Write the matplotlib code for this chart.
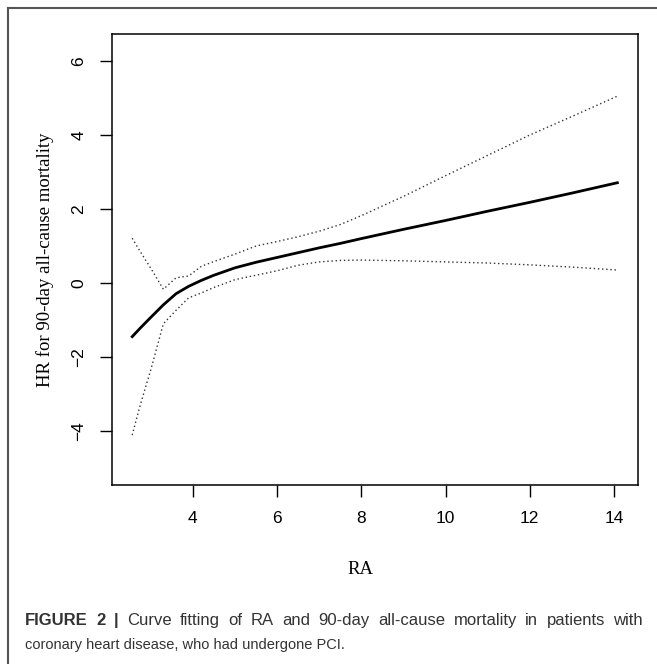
import numpy as np
import matplotlib.pyplot as plt
from matplotlib.lines import Line2D

# valores
ra = [2.56, 2.75, 3.0, 3.3, 3.6, 3.9, 4.2, 4.5, 5.0, 5.5, 6.0, 6.5, 7.0,
      7.5, 8.0, 9.0, 10.0, 11.0, 12.0, 13.0, 14.08]
hr = [-1.45, -1.22, -0.93, -0.59, -0.29, -0.09, 0.07, 0.21, 0.41, 0.56, 0.69,
      0.82, 0.95, 1.07, 1.20, 1.45, 1.69, 1.94, 2.18, 2.43, 2.71]
upper = [1.21, 0.85, 0.40, -0.17, 0.14, 0.19, 0.45, 0.58, 0.78, 1.00, 1.12,
         1.25, 1.40, 1.58, 1.82, 2.34, 2.90, 3.45, 4.00, 4.50, 5.05]
lower = [-4.11, -3.30, -2.35, -1.10, -0.74, -0.40, -0.27, -0.12, 0.09, 0.21,
         0.33, 0.48, 0.57, 0.61, 0.62, 0.60, 0.57, 0.54, 0.49, 0.43, 0.35]
xticks = [4, 6, 8, 10, 12, 14]
yticks = [-4, -2, 0, 2, 4, 6]

caption1_bold = 'FIGURE 2 |'
caption1 = 'Curve fitting of RA and 90-day all-cause mortality in patients with'
caption2 = 'coronary heart disease, who had undergone PCI.'

W, H = 657, 664
fig = plt.figure(figsize=(W / 100, H / 100), dpi=100)

# moldura da figura (linhas de cima e da esquerda)
fig.add_artist(Line2D([8 / W, 1], [1 - 8 / H, 1 - 8 / H], color='#555555', lw=1.5))
fig.add_artist(Line2D([8 / W, 8 / W], [0, 1 - 8 / H], color='#555555', lw=1.5))

ax = fig.add_axes([112 / W, 1 - 485 / H, 526 / W, 451 / H])
ax.plot(ra, hr, color='black', lw=2.0)
ax.plot(ra, upper, color='#333333', lw=1.0, linestyle=(0, (1, 2)))
ax.plot(ra, lower, color='#333333', lw=1.0, linestyle=(0, (1, 2)))

ax.set_xlim(2.08, 14.57)
ax.set_ylim(-5.46, 6.73)
ax.set_xticks(xticks)
ax.set_yticks(yticks)
ax.set_yticklabels([str(v).replace('-', '\u2212') for v in yticks], rotation=90, va='center')
ax.tick_params(length=8.4, width=1, labelsize=12.5, pad=10)
for lab in ax.get_xticklabels() + ax.get_yticklabels():
    lab.set_fontfamily('Liberation Sans')
for s in ax.spines.values():
    s.set_linewidth(1.1)

# titulos dos eixos
fig.text(360 / W, 1 - 570 / H, 'RA', family='Liberation Serif', fontsize=13.5,
         ha='center', va='center')
fig.text(45 / W, 1 - 259.5 / H, 'HR for 90-day all-cause mortality', family='Liberation Serif',
         fontsize=13.5, rotation=90, ha='center', va='center')

# legenda da figura, primeira linha justificada
cap_kw = dict(family='Liberation Sans', color='#333333', va='baseline')
renderer = fig.canvas.get_renderer()
palavras = [(w, 'bold') for w in caption1_bold.split()] + [(w, 'normal') for w in caption1.split()]
objs = []
total = 0
for w, peso in palavras:
    t = fig.text(0, 1 - 625 / H, w, weight=peso, fontsize=12, **cap_kw)
    bb = t.get_window_extent(renderer)
    objs.append((t, bb.width))
    total += bb.width
x0, x1 = 25, 643
gap = (x1 - x0 - total) / (len(objs) - 1)
x = x0
for t, wd in objs:
    t.set_x(x / W)
    x += wd + gap
fig.text(25 / W, 1 - 649 / H, caption2, fontsize=10.5, **cap_kw)

fig.savefig('out.png', dpi=100)
